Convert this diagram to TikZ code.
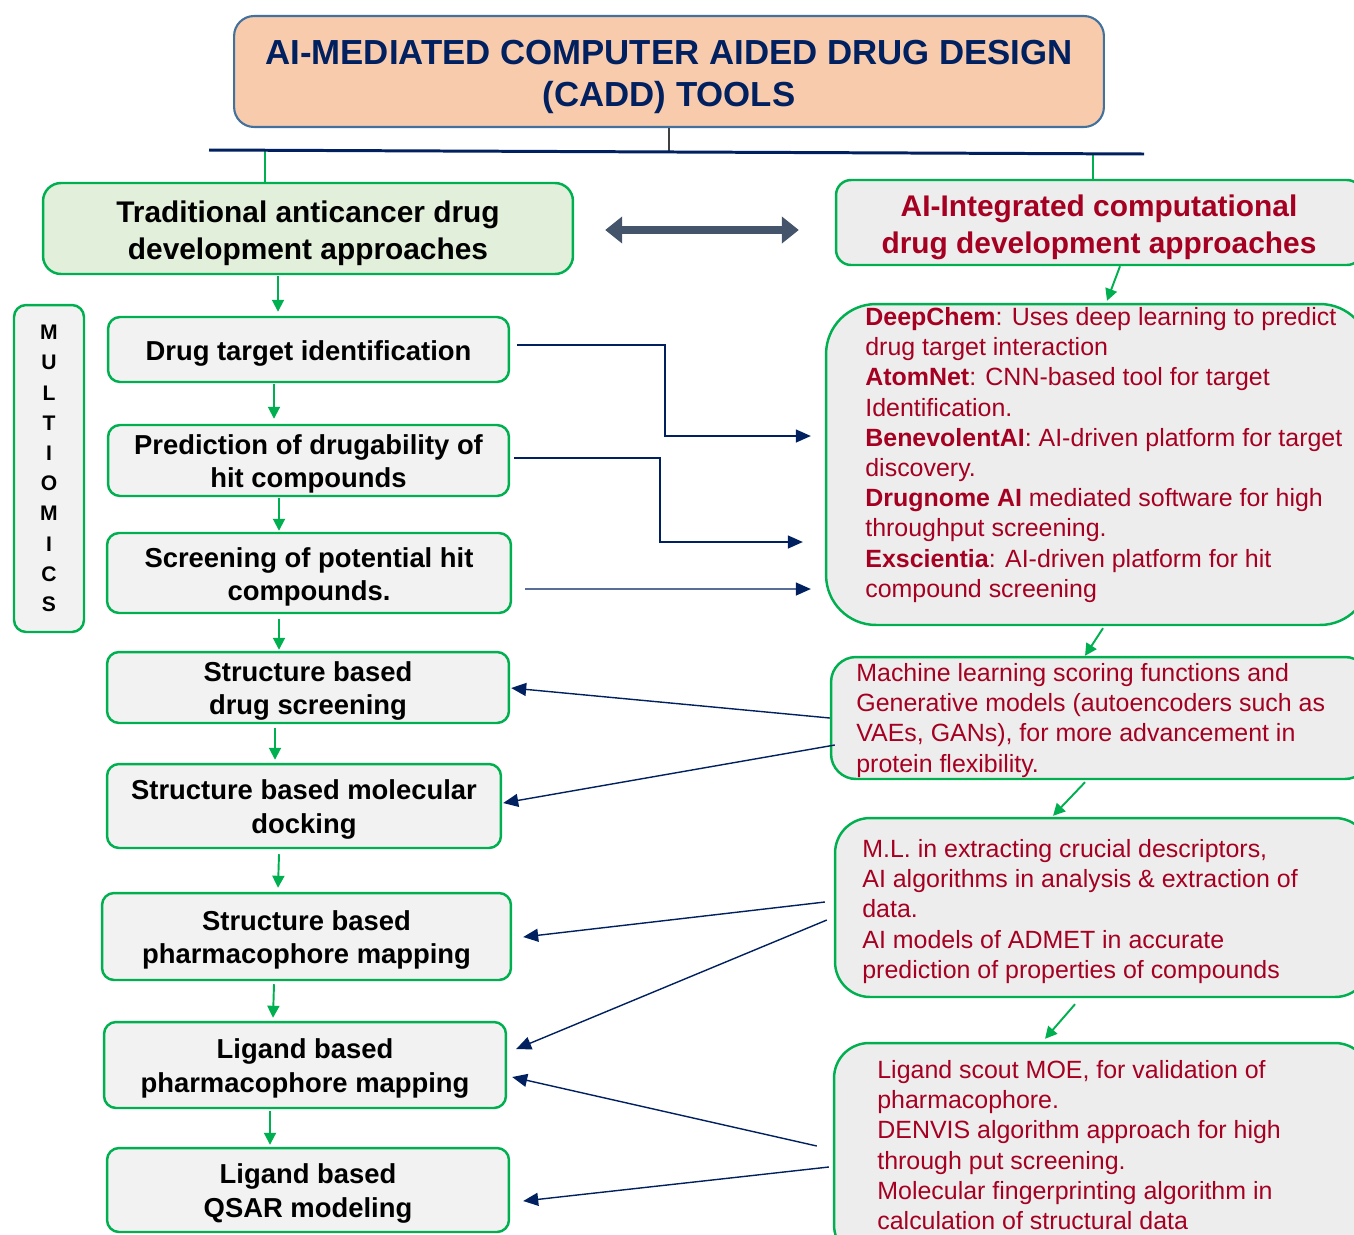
\documentclass[tikz,border=0pt]{standalone}
\usepackage{fontspec}
\setmainfont{Liberation Sans}
\usetikzlibrary{arrows.meta,calc}
\definecolor{grn}{HTML}{00B050}
\definecolor{navyc}{HTML}{002060}
\definecolor{dred}{HTML}{A50021}
\definecolor{peach}{HTML}{F8CBAD}
\definecolor{tborder}{HTML}{41719C}
\definecolor{lgreen}{HTML}{E2EFDA}
\definecolor{lgray}{HTML}{F2F2F2}
\definecolor{rgray}{HTML}{EDEDED}
\definecolor{slate}{HTML}{44546A}
\definecolor{dgray}{HTML}{404040}
\newcommand\titlefont{\fontsize{19.8pt}{23.8pt}\selectfont\bfseries}
\newcommand\topfont{\fontsize{17pt}{21pt}\selectfont\bfseries}
\newcommand\boxfont{\fontsize{15.6pt}{19pt}\selectfont\bfseries}
\newcommand\rfont{\fontsize{14.2pt}{17.2pt}\selectfont}
\newcommand\mfont{\fontsize{12pt}{17.2pt}\selectfont\bfseries}
\newcommand\tstr[1]{\rule{0pt}{#1}}
\begin{document}
\begin{tikzpicture}[x=0.02cm,y=-0.02cm,
  lbox/.style={draw=grn, line width=1.4pt, fill=lgray, rounded corners=0.24cm, align=center, font=\boxfont, inner sep=0pt, text=black},
  rbox/.style={draw=grn, line width=1.4pt, fill=rgray, inner sep=0pt},
  rtext/.style={align=left, text=dred, font=\rfont, anchor=north west, inner sep=0pt},
  garrow/.style={draw=grn, line width=1.1pt, -{Triangle[length=0.24cm,width=0.24cm]}},
  navyarr/.style={draw=navyc, line width=0.8pt, -{Triangle[length=0.3cm,width=0.26cm]}}]
\useasboundingbox (0,0) rectangle (1354,1234);
\clip (0,0) rectangle (1354,1234);

% title
\node[draw=tborder, line width=1.2pt, fill=peach, rounded corners=0.4cm, minimum width=17.4cm, minimum height=2.22cm, align=center, text=navyc, font=\titlefont, inner sep=0pt] (title) at (669,71.5) {\tstr{20pt}AI-MEDIATED COMPUTER AIDED DRUG DESIGN\\(CADD) TOOLS};

% top boxes
\node[draw=grn, line width=1.4pt, fill=lgreen, rounded corners=0.36cm, minimum width=10.6cm, minimum height=1.82cm, align=center, font=\topfont, inner sep=0pt] (lt) at (308,228.5) {\tstr{18.1pt}Traditional anticancer drug\\development approaches};
\node[draw=grn, line width=1.4pt, fill=rgray, rounded corners=0.3cm, minimum width=10.52cm, minimum height=1.7cm, align=center, font=\topfont, text=dred, inner sep=0pt] (rt) at (1099,222.5) {\tstr{18.1pt}AI-Integrated computational\\drug development approaches};

% bracket line
\coordinate (hl) at (209,150);
\coordinate (hr) at (1144,154);
\coordinate (hm) at (669,152);
\coordinate (hA) at (265,151);
\coordinate (hB) at (1093,155);
\draw[dgray, line width=0.7pt] (title.south) -- (hm);
\draw[grn, line width=1.1pt] (hA) -- (hA |- lt.north);
\draw[grn, line width=1.1pt] (hB) -- (hB |- rt.north);
\draw[navyc, line width=1.7pt] (hl) -- (hr);

% double arrow
\draw[slate, line width=4pt, {Triangle[length=0.34cm,width=0.52cm]}-{Triangle[length=0.34cm,width=0.52cm]}] ($(lt.east)+(31,1.5)$) -- ($(rt.west)+(-36,7.5)$);

% multiomics
\node[draw=grn, line width=1.4pt, fill=lgray, rounded corners=0.24cm, minimum width=1.4cm, minimum height=6.54cm, align=center, font=\mfont, inner sep=0pt] (mo) at (49,468.5) {M\\U\\L\\T\\I\\O\\M\\I\\C\\S};

% left boxes
\node[lbox, minimum width=8.02cm, minimum height=1.3cm] (b1) at (308.5,349.5) {\tstr{15.4pt}Drug target identification};
\node[lbox, minimum width=8.02cm, minimum height=1.42cm] (b2) at (308.5,460.5) {\tstr{15.4pt}Prediction of drugability of\\hit compounds};
\node[lbox, minimum width=8.08cm, minimum height=1.6cm] (b3) at (309,573) {\tstr{15.4pt}Screening of potential hit\\compounds.};
\node[lbox, minimum width=8.04cm, minimum height=1.42cm] (b4) at (308,687.5) {\tstr{15.4pt}Structure based\\drug screening};
\node[lbox, minimum width=7.88cm, minimum height=1.68cm] (b5) at (304,806) {\tstr{15.4pt}Structure based molecular\\docking};
\node[lbox, minimum width=8.18cm, minimum height=1.74cm] (b6) at (306.5,936.5) {\tstr{15.4pt}Structure based\\pharmacophore mapping};
\node[lbox, minimum width=8.04cm, minimum height=1.72cm] (b7) at (305,1065) {\tstr{15.4pt}Ligand based\\pharmacophore mapping};
\node[lbox, minimum width=8.04cm, minimum height=1.68cm] (b8) at (308,1190) {\tstr{15.4pt}Ligand based\\QSAR modeling};

% right boxes
\node[rbox, rounded corners=1cm, minimum width=10.88cm, minimum height=6.42cm] (r1) at (1098,464.5) {};
\node[rtext] (r1t) at (865,307) {\textbf{DeepChem}: Uses deep learning to predict\\drug target interaction\\\textbf{AtomNet}: CNN-based tool for target\\Identification.\\\textbf{BenevolentAI}: AI-driven platform for target\\discovery.\\\textbf{Drugnome AI} mediated software for high\\throughput screening.\\\textbf{Exscientia}: AI-driven platform for hit\\compound screening};

\node[rbox, rounded corners=0.5cm, minimum width=10.78cm, minimum height=2.44cm] (r2) at (1100.5,718) {};
\node[rtext] (r2t) at (856,663) {Machine learning scoring functions and\\Generative models (autoencoders such as\\VAEs, GANs), for more advancement in\\protein flexibility.};

\node[rbox, rounded corners=0.7cm, minimum width=10.7cm, minimum height=3.58cm] (r3) at (1102.5,907.5) {};
\node[rtext] (r3t) at (862,839) {M.L. in extracting crucial descriptors,\\AI algorithms in analysis \& extraction of\\data.\\AI models of ADMET in accurate\\prediction of properties of compounds};

\node[rbox, rounded corners=0.7cm, minimum width=10.72cm, minimum height=4.34cm] (r4) at (1102,1151.5) {};
\node[rtext] (r4t) at (877,1060) {Ligand scout MOE, for validation of\\pharmacophore.\\DENVIS algorithm approach for high\\through put screening.\\Molecular fingerprinting algorithm in\\calculation of structural data};

% left green arrows
\draw[garrow] ($(lt.south)+(-30,1)$) -- ($(b1.north)+(-30.5,-4)$);
\draw[garrow] ($(b1.south)+(-34.5,1)$) -- ($(b2.north)+(-34.5,-5)$);
\draw[garrow] ($(b2.south)+(-29.5,1)$) -- ($(b3.north)+(-30,-1)$);
\draw[garrow] ($(b3.south)+(-30,5)$) -- ($(b4.north)+(-29,-1)$);
\draw[garrow] ($(b4.south)+(-33,4)$) -- ($(b5.north)+(-29,-3)$);
\draw[garrow] ($(b5.south)+(-25,5)$) -- ($(b6.north)+(-28.5,-4)$);
\draw[garrow] ($(b6.south)+(-32.5,3)$) -- ($(b7.north)+(-32,-3)$);
\draw[garrow] ($(b7.south)+(-35,2)$) -- ($(b8.north)+(-38,-2)$);

% right green arrows
\draw[garrow] ($(rt.south)+(21,0)$) -- ($(r1.north)+(9,-2)$);
\draw[garrow] ($(r1.south)+(5,2)$) -- ($(r2.north)+(-15.5,0)$);
\draw[garrow] ($(r2.south)+(-15.5,2)$) -- ($(r3.north)+(-49.5,-1)$);
\draw[garrow] ($(r3.south)+(-27.5,6)$) -- ($(r4.north)+(-57,-3)$);

% navy elbow arrows (left to right)
\draw[navyarr] ($(b1.east)+(7,-4.5)$) -- ++(148,0) |- ($(r1.west)+(-14,-28.5)$);
\draw[navyarr] ($(b2.east)+(4,-2.5)$) -- ++(146,0) |- ($(r1.west)+(-22,77.5)$);
\draw[navyarr] ($(b3.east)+(13,16)$) -- ($(r1.west)+(-14,124.5)$);

% navy arrows (right to left)
\draw[navyarr] (r2.west) -- ($(b4.east)+(1,0.5)$);
\draw[navyarr] ($(r2.west)+(5,27)$) -- ($(b5.east)+(1,-3)$);
\draw[navyarr] ($(r3.west)+(-9,-5.5)$) -- ($(b6.east)+(11,0.5)$);
\draw[navyarr] ($(r3.west)+(-7,12.5)$) -- ($(b7.east)+(9,-16)$);
\draw[navyarr] ($(r4.west)+(-16,-5.5)$) -- ($(b7.east)+(5,12)$);
\draw[navyarr] ($(r4.west)+(-4,15.5)$) -- ($(b8.east)+(13,11)$);
\end{tikzpicture}
\end{document}
